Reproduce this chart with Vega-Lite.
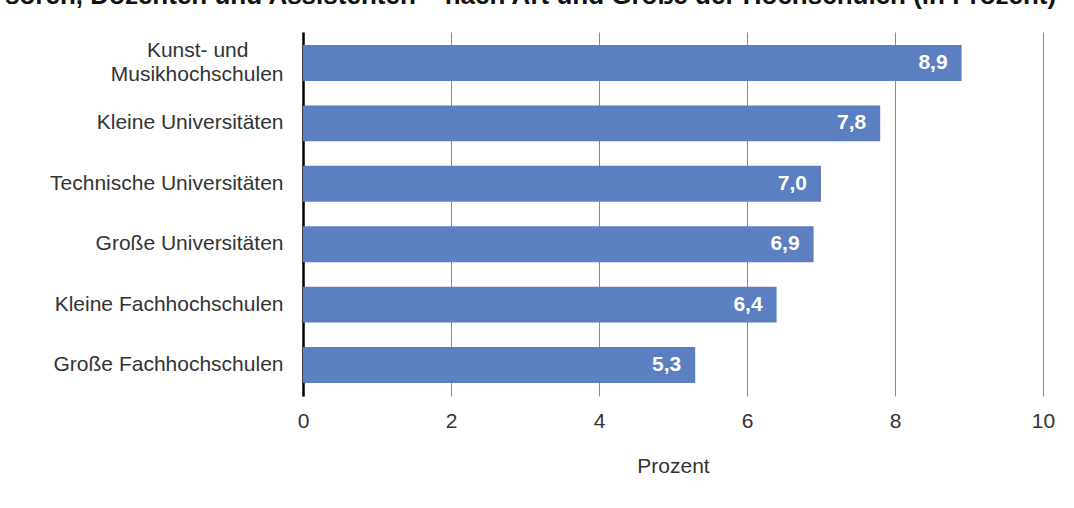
{
  "$schema": "https://vega.github.io/schema/vega-lite/v6.json",
  "autosize": {"type": "none"},
  "padding": {"left": 303, "top": 32, "right": 31, "bottom": 112},
  "width": 740,
  "height": 364,
  "background": "#ffffff",
  "title": {
    "text": "soren, Dozenten und Assistenten – nach Art und Größe der Hochschulen (in Prozent)",
    "anchor": "start",
    "frame": "group",
    "dx": -298,
    "offset": 23,
    "fontSize": 26,
    "fontWeight": "bold",
    "font": "Liberation Sans",
    "color": "#111111"
  },
  "data": {
    "values": [
      {"Hochschultyp": "Kunst- und\nMusikhochschulen", "Prozent": 8.9},
      {"Hochschultyp": "Kleine Universitäten", "Prozent": 7.8},
      {"Hochschultyp": "Technische Universitäten", "Prozent": 7.0},
      {"Hochschultyp": "Große Universitäten", "Prozent": 6.9},
      {"Hochschultyp": "Kleine Fachhochschulen", "Prozent": 6.4},
      {"Hochschultyp": "Große Fachhochschulen", "Prozent": 5.3}
    ]
  },
  "encoding": {
    "y": {
      "field": "Hochschultyp",
      "type": "nominal",
      "sort": null,
      "scale": {"paddingInner": 0.406, "paddingOuter": 0.215},
      "axis": {
        "title": null,
        "labelExpr": "indexof(datum.value, '\\n') > 0 ? [split(datum.value, '\\n')[0] + '\u2007\u2007\u2007\u200b', split(datum.value, '\\n')[1]] : datum.label",
        "labelOffset": {"condition": {"test": "indexof(datum.value, '\\n') > 0", "value": -12}, "value": 0},
        "labelFont": "Liberation Sans",
        "labelFontSize": 21,
        "labelColor": "#333333",
        "labelLineHeight": 24,
        "labelPadding": 20,
        "ticks": false,
        "tickSize": 0,
        "domain": true,
        "domainColor": "#000000",
        "domainWidth": 2.5,
        "grid": false,
        "labelLimit": 400
      }
    }
  },
  "layer": [
    {
      "mark": {"type": "bar", "color": "#5b7fc1"},
      "encoding": {
        "x": {
          "field": "Prozent",
          "type": "quantitative",
          "scale": {"domain": [0, 10], "nice": false},
          "axis": {
            "title": "Prozent",
            "titleFont": "Liberation Sans",
            "titleFontSize": 21,
            "titleFontWeight": "normal",
            "titleColor": "#333333",
            "titlePadding": 24,
            "values": [0, 2, 4, 6, 8, 10],
            "format": "d",
            "labelFlush": false,
            "labelFont": "Liberation Sans",
            "labelFontSize": 21,
            "labelColor": "#333333",
            "labelPadding": 14,
            "domain": false,
            "ticks": false,
            "tickSize": 0,
            "grid": true,
            "gridColor": "#8a8a8a",
            "gridWidth": 1
          }
        }
      }
    },
    {
      "mark": {
        "type": "text",
        "align": "right",
        "baseline": "middle",
        "dx": -14,
        "color": "#ffffff",
        "font": "Liberation Sans",
        "fontSize": 21,
        "fontWeight": "bold"
      },
      "encoding": {
        "x": {"field": "Prozent", "type": "quantitative"},
        "text": {"field": "Prozent", "type": "quantitative", "format": ".1f"}
      }
    }
  ],
  "config": {
    "view": {"stroke": null},
    "locale": {
      "number": {"decimal": ",", "thousands": ".", "grouping": [3], "currency": ["", " €"]}
    }
  }
}
